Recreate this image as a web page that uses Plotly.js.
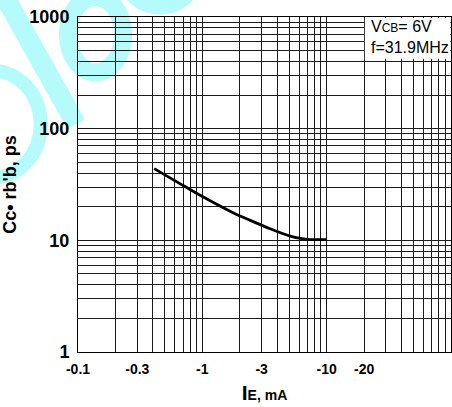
<!DOCTYPE html>
<html>
<head>
<meta charset="utf-8">
<script src="https://cdn.plot.ly/plotly-3.0.1.min.js"></script>
<style>html,body{margin:0;padding:0;background:#fff;}#chart{width:452px;height:407px;}</style>
</head>
<body>
<div id="chart"></div>
<script>
// Emitter current magnitude |IE|, mA (axis labels show negative values)
const ieMag = [0.41, 0.66, 0.96, 1.78, 2.43, 3.51, 5.09, 6.13, 7.38, 10.05];
// Cc·rb'b, ps
const ccrb = [43.9, 32.2, 25.3, 17.6, 15.1, 12.7, 10.9, 10.4, 10.15, 10.15];

const xTickVals = [0.1, 0.3, 1, 3, 10, 20];
const xTickText = ['-0.1', '-0.3', '-1', '-3', '-10', '-20'];
const yTickVals = [1, 10, 100, 1000];
const yTickText = ['1', '10', '100', '1000'];

function logGrid(startDecade, nDecades) {
  const v = [];
  for (let d = 0; d < nDecades; d++) {
    const base = startDecade * Math.pow(10, d);
    for (let k = 1; k <= 9; k++) v.push(base * k);
  }
  v.push(startDecade * Math.pow(10, nDecades));
  return v;
}

const FONT = '"Liberation Sans", Arial, sans-serif';
const GRID = '#1a1a1a';
const CYAN = '#b6fbfb';

const trace = {
  x: ieMag, y: ccrb, type: 'scatter', mode: 'lines',
  line: {color: '#000', width: 2.8, shape: 'spline', smoothing: 0.6},
  hoverinfo: 'skip', showlegend: false
};

const layout = {
  width: 452, height: 407,
  margin: {l: 78, r: 1, t: 17, b: 55, pad: 0},
  paper_bgcolor: '#fff', plot_bgcolor: 'rgba(0,0,0,0)',
  font: {family: FONT, color: '#000'},
  showlegend: false,
  xaxis: {
    type: 'log', range: [-1, 2], fixedrange: true,
    tickmode: 'array', tickvals: xTickVals, ticktext: xTickText,
    tickfont: {family: FONT, size: 14, color: '#000', weight: 'bold'},
    ticks: '', ticklabelstandoff: 4,
    showgrid: true, gridcolor: GRID, gridwidth: 1,
    minor: {tickmode: 'array', tickvals: logGrid(0.1, 3), showgrid: true, gridcolor: GRID, gridwidth: 1, ticks: ''},
    showline: true, linecolor: '#000', linewidth: 1, mirror: true, zeroline: false,
    title: {text: '<span style="font-size:21px">I</span>E, mA', font: {family: FONT, size: 14, color: '#000', weight: 'bold'}, standoff: 14}
  },
  yaxis: {
    type: 'log', range: [0, 3], fixedrange: true,
    tickmode: 'array', tickvals: yTickVals, ticktext: yTickText,
    tickfont: {family: FONT, size: 18, color: '#000', weight: 'bold'},
    ticks: '', ticklabelstandoff: 4,
    showgrid: true, gridcolor: GRID, gridwidth: 1,
    minor: {tickmode: 'array', tickvals: logGrid(1, 3), showgrid: true, gridcolor: GRID, gridwidth: 1, ticks: ''},
    showline: true, linecolor: '#000', linewidth: 1, mirror: true, zeroline: false,
    title: {text: "Cc\u2022 rb'b, ps", font: {family: FONT, size: 18, color: '#000', weight: 'bold'}, standoff: 8}
  },
  shapes: [
    // watermark (decorative, behind everything)
    {type: 'line', xref: 'paper', yref: 'paper', layer: 'below',
     x0: -0.196, y0: 1.06, x1: -0.005, y1: 0.68, line: {color: CYAN, width: 20}},
    {type: 'circle', xref: 'paper', yref: 'paper', layer: 'below',
     x0: -0.027, x1: 0.121, y0: 0.835, y1: 1.06, line: {color: CYAN, width: 18}},
    {type: 'circle', xref: 'paper', yref: 'paper', layer: 'below',
     x0: 0.13, x1: 0.31, y0: 1.03, y1: 1.2, line: {color: CYAN, width: 15}},
    {type: 'circle', xref: 'paper', yref: 'paper', layer: 'below',
     x0: -0.36, x1: -0.1, y0: 0.52, y1: 0.84, line: {color: CYAN, width: 14}},
    // white condition box in the top-right corner
    {type: 'rect', xref: 'paper', yref: 'paper', layer: 'above',
     x0: 0.769, x1: 0.998, y0: 0.875, y1: 0.997, fillcolor: '#fff', line: {width: 0}}
  ],
  annotations: [
    {xref: 'paper', yref: 'paper', x: 0.78, y: 0.973, xanchor: 'left', yanchor: 'middle', showarrow: false,
     text: 'V<span style="font-size:12px">CB</span>= 6V', font: {family: FONT, size: 16, color: '#000'}},
    {xref: 'paper', yref: 'paper', x: 0.78, y: 0.910, xanchor: 'left', yanchor: 'middle', showarrow: false,
     text: 'f=31.9MHz', font: {family: FONT, size: 16, color: '#000'}}
  ]
};

Plotly.newPlot('chart', [trace], layout, {displayModeBar: false, staticPlot: true});
</script>
</body>
</html>
